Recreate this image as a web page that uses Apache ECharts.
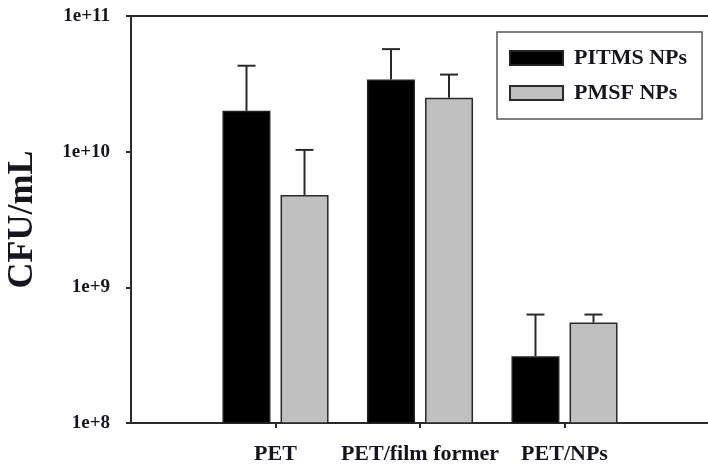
<!DOCTYPE html>
<html>
<head>
<meta charset="utf-8">
<script src="https://cdn.jsdelivr.net/npm/echarts@6/dist/echarts.min.js"></script>
<style>html,body{margin:0;padding:0;background:#fff}#c{width:708px;height:466px}</style>
</head>
<body>
<div id="c"></div>
<script>
var categories = ['PET', 'PET/film former', 'PET/NPs'];
var seriesNames = ['PITMS NPs', 'PMSF NPs'];
var pitms = [2.0e10, 3.4e10, 3.1e8];
var pitmsUpper = [4.3e10, 5.7e10, 6.3e8];
var pmsf = [4.8e9, 2.5e10, 5.5e8];
var pmsfUpper = [1.03e10, 3.7e10, 6.3e8];
var yTickValues = [1e8, 1e9, 1e10, 1e11];
var yTickLabels = ['1e+8', '1e+9', '1e+10', '1e+11'];
var yTitle = 'CFU/mL';

var xCats = [''].concat(categories).concat(['']);
function pad(arr) { return ['-'].concat(arr).concat(['-']); }

var FONT = '"Liberation Serif", "Times New Roman", serif';
var TXT = '#15151f';
var BAR_W = 48, OFFSET = 29;

function errSeries(upper, base, sign) {
  var data = [];
  for (var i = 0; i < upper.length; i++) data.push([i + 1, base[i], upper[i]]);
  return {
    type: 'custom',
    z: 5,
    silent: true,
    data: data,
    renderItem: function (params, api) {
      var lo = api.coord([api.value(0), api.value(1)]);
      var hi = api.coord([api.value(0), api.value(2)]);
      var x = lo[0] + sign * OFFSET;
      var st = { stroke: '#2a2a2a', lineWidth: 2 };
      return {
        type: 'group',
        children: [
          { type: 'line', shape: { x1: x, y1: lo[1], x2: x, y2: hi[1] }, style: st },
          { type: 'line', shape: { x1: x - 9, y1: hi[1], x2: x + 9, y2: hi[1] }, style: st }
        ]
      };
    }
  };
}

var chart = echarts.init(document.getElementById('c'), null, { renderer: 'canvas' });
chart.setOption({
  animation: false,
  backgroundColor: '#fff',
  grid: { left: 131, top: 16, width: 578, height: 407, containLabel: false, outerBoundsMode: 'none',
    show: true, borderColor: '#2a2a2a', borderWidth: 2, backgroundColor: 'transparent' },
  legend: {
    orient: 'vertical',
    left: 497, top: 32,
    data: seriesNames,
    icon: 'rect',
    itemWidth: 53, itemHeight: 14, itemGap: 13,
    padding: [15, 15, 15, 12],
    borderColor: '#555', borderWidth: 1.5,
    textStyle: { fontFamily: FONT, fontWeight: 'bold', fontSize: 22, color: TXT, padding: [0, 0, 0, 6] }
  },
  xAxis: {
    type: 'category',
    data: xCats,
    boundaryGap: false,
    axisLine: { lineStyle: { color: '#2a2a2a', width: 2 } },
    axisTick: { show: true, length: 5, lineStyle: { color: '#2a2a2a', width: 2 }, interval: function (i, v) { return v !== ''; } },
    axisLabel: { fontFamily: FONT, fontWeight: 'bold', fontSize: 22, color: TXT, margin: 20, interval: 0 },
    splitLine: { show: false }
  },
  yAxis: {
    type: 'log',
    logBase: 10,
    min: 1e8, max: 1e11,
    name: yTitle,
    nameLocation: 'middle',
    nameGap: 90,
    nameTextStyle: { fontFamily: FONT, fontWeight: 'bold', fontSize: 36, color: TXT },
    axisLine: { show: true, lineStyle: { color: '#2a2a2a', width: 2 } },
    axisTick: { show: true, length: 5, inside: false, lineStyle: { color: '#2a2a2a', width: 2 } },
    minorTick: { show: false },
    splitLine: { show: false },
    axisLabel: {
      fontFamily: FONT, fontWeight: 'bold', fontSize: 19, color: TXT, margin: 21,
      formatter: function (v) {
        for (var i = 0; i < yTickValues.length; i++) {
          if (Math.abs(Math.log10(v) - Math.log10(yTickValues[i])) < 1e-6) return yTickLabels[i];
        }
        return '';
      }
    }
  },
  series: [
    { name: seriesNames[0], type: 'bar', data: pad(pitms), barWidth: BAR_W, barGap: '21%',
      itemStyle: { color: '#000', borderColor: '#222', borderWidth: 1.5 } },
    { name: seriesNames[1], type: 'bar', data: pad(pmsf), barWidth: BAR_W, barGap: '21%',
      itemStyle: { color: '#c0c0c0', borderColor: '#2a2a2a', borderWidth: 1.5 } },
    errSeries(pitmsUpper, pitms, -1),
    errSeries(pmsfUpper, pmsf, 1)
  ]
});
</script>
</body>
</html>
